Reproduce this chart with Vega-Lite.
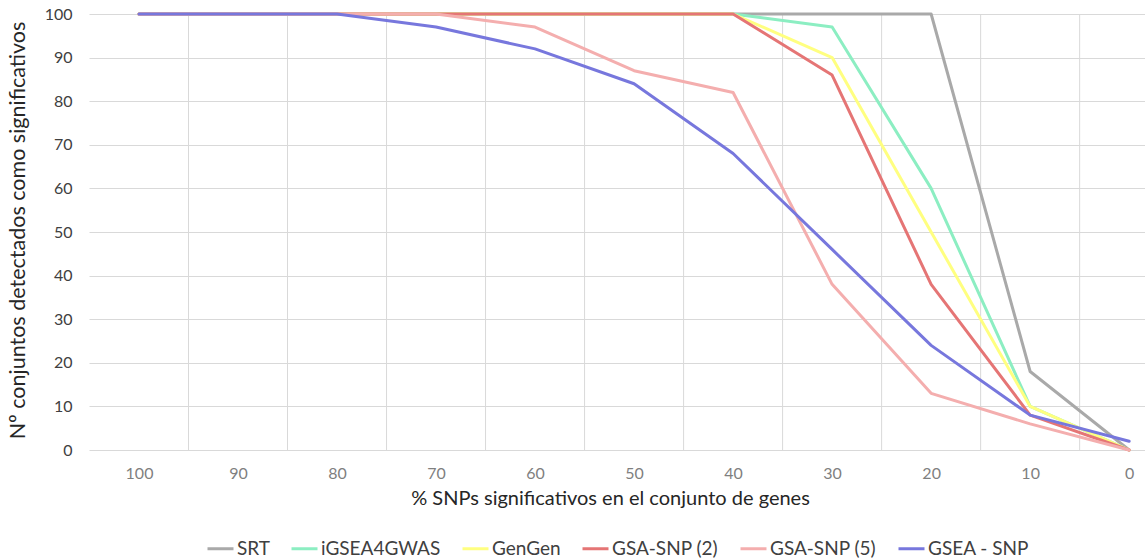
{
  "$schema": "https://vega.github.io/schema/vega-lite/v6.json",
  "width": 1056,
  "height": 436,
  "autosize": {"type": "none"},
  "padding": {"left": 89, "top": 14, "right": 0, "bottom": 109},
  "background": "white",
  "config": {
    "view": {"stroke": null},
    "font": "Lato"
  },
  "datasets": {
    "grid": [
      {"g": 95}, {"g": 85}, {"g": 75}, {"g": 65}, {"g": 55},
      {"g": 45}, {"g": 35}, {"g": 25}, {"g": 15}, {"g": 5}
    ],
    "series": [
      {"metodo": "SRT", "pct": 100, "n": 100},
      {"metodo": "SRT", "pct": 90, "n": 100},
      {"metodo": "SRT", "pct": 80, "n": 100},
      {"metodo": "SRT", "pct": 70, "n": 100},
      {"metodo": "SRT", "pct": 60, "n": 100},
      {"metodo": "SRT", "pct": 50, "n": 100},
      {"metodo": "SRT", "pct": 40, "n": 100},
      {"metodo": "SRT", "pct": 30, "n": 100},
      {"metodo": "SRT", "pct": 20, "n": 100},
      {"metodo": "SRT", "pct": 10, "n": 18},
      {"metodo": "SRT", "pct": 0, "n": 0},
      {"metodo": "iGSEA4GWAS", "pct": 100, "n": 100},
      {"metodo": "iGSEA4GWAS", "pct": 90, "n": 100},
      {"metodo": "iGSEA4GWAS", "pct": 80, "n": 100},
      {"metodo": "iGSEA4GWAS", "pct": 70, "n": 100},
      {"metodo": "iGSEA4GWAS", "pct": 60, "n": 100},
      {"metodo": "iGSEA4GWAS", "pct": 50, "n": 100},
      {"metodo": "iGSEA4GWAS", "pct": 40, "n": 100},
      {"metodo": "iGSEA4GWAS", "pct": 30, "n": 97},
      {"metodo": "iGSEA4GWAS", "pct": 20, "n": 60},
      {"metodo": "iGSEA4GWAS", "pct": 10, "n": 10},
      {"metodo": "iGSEA4GWAS", "pct": 0, "n": 0},
      {"metodo": "GenGen", "pct": 100, "n": 100},
      {"metodo": "GenGen", "pct": 90, "n": 100},
      {"metodo": "GenGen", "pct": 80, "n": 100},
      {"metodo": "GenGen", "pct": 70, "n": 100},
      {"metodo": "GenGen", "pct": 60, "n": 100},
      {"metodo": "GenGen", "pct": 50, "n": 100},
      {"metodo": "GenGen", "pct": 40, "n": 100},
      {"metodo": "GenGen", "pct": 30, "n": 90},
      {"metodo": "GenGen", "pct": 20, "n": 50},
      {"metodo": "GenGen", "pct": 10, "n": 10},
      {"metodo": "GenGen", "pct": 0, "n": 0},
      {"metodo": "GSA-SNP (2)", "pct": 100, "n": 100},
      {"metodo": "GSA-SNP (2)", "pct": 90, "n": 100},
      {"metodo": "GSA-SNP (2)", "pct": 80, "n": 100},
      {"metodo": "GSA-SNP (2)", "pct": 70, "n": 100},
      {"metodo": "GSA-SNP (2)", "pct": 60, "n": 100},
      {"metodo": "GSA-SNP (2)", "pct": 50, "n": 100},
      {"metodo": "GSA-SNP (2)", "pct": 40, "n": 100},
      {"metodo": "GSA-SNP (2)", "pct": 30, "n": 86},
      {"metodo": "GSA-SNP (2)", "pct": 20, "n": 38},
      {"metodo": "GSA-SNP (2)", "pct": 10, "n": 8},
      {"metodo": "GSA-SNP (2)", "pct": 0, "n": 0},
      {"metodo": "GSA-SNP (5)", "pct": 100, "n": 100},
      {"metodo": "GSA-SNP (5)", "pct": 90, "n": 100},
      {"metodo": "GSA-SNP (5)", "pct": 80, "n": 100},
      {"metodo": "GSA-SNP (5)", "pct": 70, "n": 100},
      {"metodo": "GSA-SNP (5)", "pct": 60, "n": 97},
      {"metodo": "GSA-SNP (5)", "pct": 50, "n": 87},
      {"metodo": "GSA-SNP (5)", "pct": 40, "n": 82},
      {"metodo": "GSA-SNP (5)", "pct": 30, "n": 38},
      {"metodo": "GSA-SNP (5)", "pct": 20, "n": 13},
      {"metodo": "GSA-SNP (5)", "pct": 10, "n": 6},
      {"metodo": "GSA-SNP (5)", "pct": 0, "n": 0},
      {"metodo": "GSEA - SNP", "pct": 100, "n": 100},
      {"metodo": "GSEA - SNP", "pct": 90, "n": 100},
      {"metodo": "GSEA - SNP", "pct": 80, "n": 100},
      {"metodo": "GSEA - SNP", "pct": 70, "n": 97},
      {"metodo": "GSEA - SNP", "pct": 60, "n": 92},
      {"metodo": "GSEA - SNP", "pct": 50, "n": 84},
      {"metodo": "GSEA - SNP", "pct": 40, "n": 68},
      {"metodo": "GSEA - SNP", "pct": 30, "n": 46},
      {"metodo": "GSEA - SNP", "pct": 20, "n": 24},
      {"metodo": "GSEA - SNP", "pct": 10, "n": 8},
      {"metodo": "GSEA - SNP", "pct": 0, "n": 2}
    ]
  },
  "layer": [
    {
      "data": {"name": "grid"},
      "mark": {"type": "rule", "color": "#D9D9D9", "strokeWidth": 1},
      "encoding": {
        "x": {"field": "g", "type": "quantitative", "title": "% SNPs significativos en el conjunto de genes"}
      }
    },
    {
      "data": {"name": "series"},
      "mark": {"type": "line", "strokeWidth": 3, "strokeJoin": "round", "strokeCap": "round"},
      "encoding": {
        "x": {
          "field": "pct",
          "type": "quantitative",
          "title": "% SNPs significativos en el conjunto de genes",
          "scale": {"domain": [-1.6, 105.05], "reverse": true, "nice": false, "zero": false},
          "axis": {
            "values": [100, 90, 80, 70, 60, 50, 40, 30, 20, 10, 0],
            "grid": false,
            "ticks": false,
            "domain": false,
            "labelFontSize": 16,
            "labelColor": "#7F7F7F",
            "labelPadding": 15,
            "labelFlush": false,
            "titleFontSize": 20,
            "titleFontWeight": "normal",
            "titleColor": "#262626",
            "titleX": 521,
            "titleY": 48,
            "titleAlign": "center",
            "titleBaseline": "middle"
          }
        },
        "y": {
          "field": "n",
          "type": "quantitative",
          "scale": {"domain": [0, 100], "nice": false},
          "axis": {
            "values": [0, 10, 20, 30, 40, 50, 60, 70, 80, 90, 100],
            "grid": true,
            "gridColor": "#D9D9D9",
            "gridWidth": 1,
            "ticks": false,
            "domain": false,
            "labelFontSize": 16,
            "labelColor": "#404040",
            "labelPadding": 17,
            "title": "Nº conjuntos detectados como significativos",
            "titleFontSize": 21.5,
            "titleFontWeight": "normal",
            "titleColor": "#262626",
            "titleX": -71,
            "titleY": 216,
            "titleAngle": 270,
            "titleAlign": "center",
            "titleBaseline": "middle"
          }
        },
        "color": {
          "field": "metodo",
          "type": "nominal",
          "sort": null,
          "scale": {
            "domain": ["SRT", "iGSEA4GWAS", "GenGen", "GSA-SNP (2)", "GSA-SNP (5)", "GSEA - SNP"],
            "range": ["#A9A9A9", "#8CEEC2", "#FFFF80", "#E57575", "#F4AEAE", "#7777DD"]
          },
          "legend": {
            "title": null,
            "orient": "none",
            "direction": "horizontal",
            "legendX": 117,
            "legendY": 520,
            "symbolType": "stroke",
            "symbolStrokeWidth": 3,
            "symbolSize": 676,
            "labelFontSize": 19,
            "labelColor": "#404040",
            "labelOffset": 2,
            "columnPadding": 15
          }
        },
        "order": {"field": "pct", "sort": "descending"}
      }
    }
  ]
}
